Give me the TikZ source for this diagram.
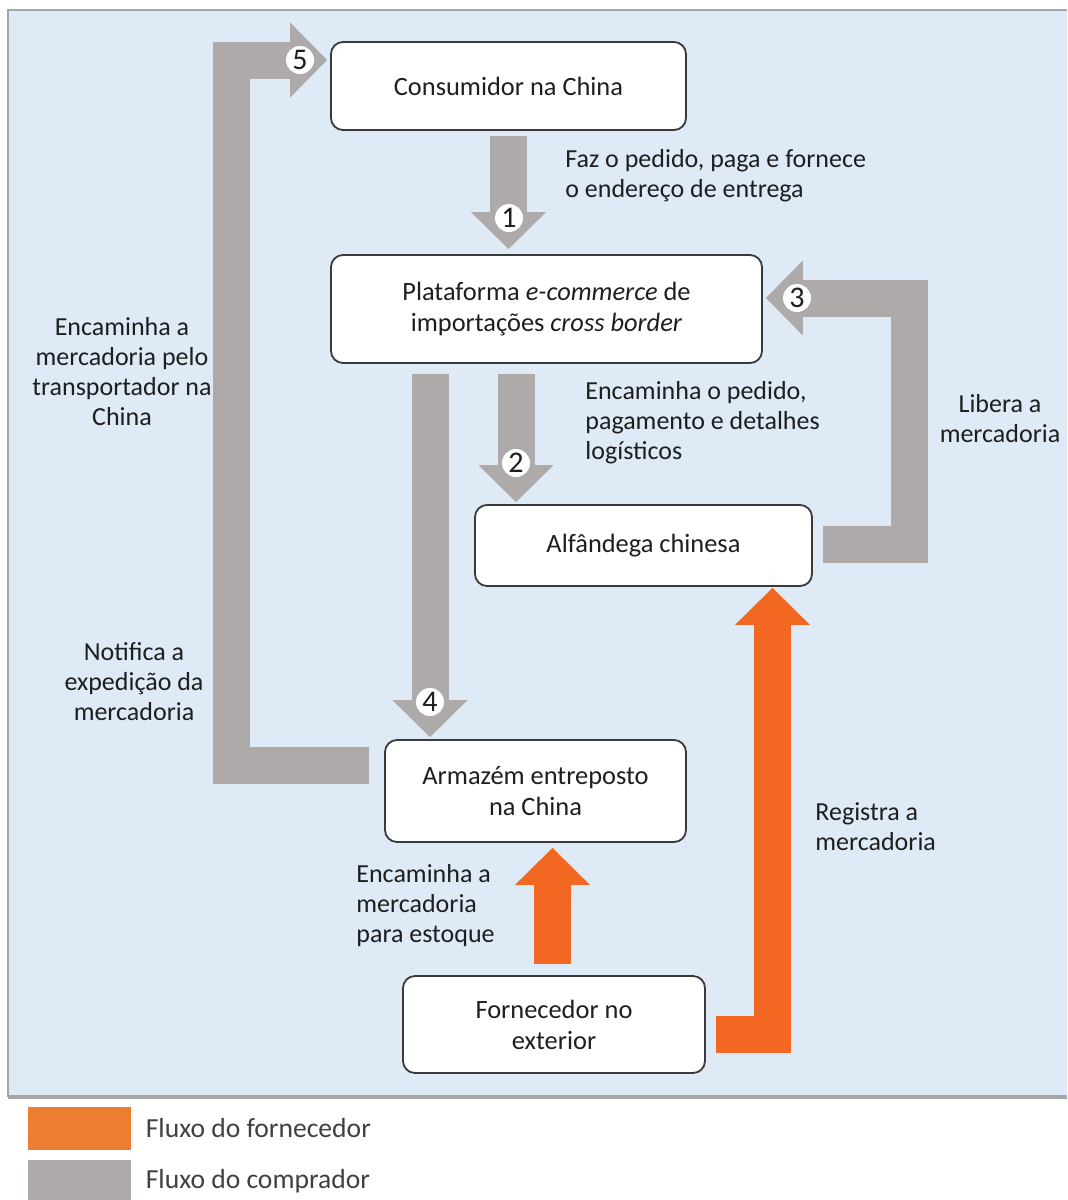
\documentclass[tikz,border=0pt]{standalone}
\usepackage{fontspec}
\setmainfont{Carlito}
\usetikzlibrary{arrows.meta,positioning,calc}
\definecolor{bgblue}{HTML}{DEEBF6}
\definecolor{frame}{HTML}{A6A6A6}
\definecolor{flowgray}{HTML}{AEAAAA}
\definecolor{floworange}{HTML}{F26722}
\definecolor{legorange}{HTML}{ED7D31}
\definecolor{boxline}{HTML}{3A3A3A}
\definecolor{ink}{HTML}{1E1E1E}
\definecolor{legink}{HTML}{404040}

\begin{document}
\begin{tikzpicture}[x=0.5pt,y=-0.5pt,
  box/.style={draw=boxline, line width=0.9pt, fill=white, rounded corners=6pt,
    align=center, text=ink, font=\fontsize{13.2}{15.5}\selectfont, inner sep=2pt},
  lbl/.style={text=ink, font=\fontsize{13}{15}\selectfont, inner sep=0pt},
  flow/.style={line width=18.5pt, line join=miter,
    -{Triangle[length=18.5pt,width=37.5pt,line width=0pt]}},
  grayflow/.style={flow, draw=flowgray},
  orangeflow/.style={flow, draw=floworange},
  num/.style={circle, fill=white, inner sep=0.5pt, minimum size=14pt,
    text=ink, font=\fontsize{15}{15}\selectfont},
  legsw/.style={minimum width=51.5pt, minimum height=21.5pt, inner sep=0pt}]
  \useasboundingbox (0,0) rectangle (1067,1200);
  \fill[bgblue] (8,10) rectangle (1067,1097);
  \draw[frame, line width=1pt] (1067,10) -- (8,10) -- (8,1097);
  \draw[frame, line width=2pt] (8,1097) -- (1067,1097);

  \node[box, minimum width=177.5pt, minimum height=44pt] (cons) at (508.5,86) {Consumidor na China};
  \node[box, minimum width=215.5pt, minimum height=54pt] (plat) at (546.5,309)
    {Plataforma \textit{e-commerce} de\\importações \textit{cross border}};
  \node[box, minimum width=168.5pt, minimum height=40.5pt] (alf) at (643.5,545.5) {Alfândega chinesa};
  \node[box, minimum width=150.5pt, minimum height=51pt] (arm) at (535.5,791) {Armazém entreposto\\na China};
  \node[box, minimum width=151pt, minimum height=48.5pt] (forn) at (554,1024.5) {Fornecedor no\\exterior};

  % fluxo do comprador
  \draw[grayflow] ($(cons.south)+(0,5)$) -- ($(plat.north)+(-38,-5)$);
  \draw[grayflow] ($(plat.south)+(-30.5,10)$) -- ($(alf.north)+(-127.5,-2)$);
  \draw[grayflow] ($(alf.east)+(10,-1)$) -- ++(86.5,0) |- ($(plat.east)+(3,-11)$);
  \draw[grayflow] ($(plat.south)+(-116.5,10)$) -- ($(arm.north)+(-105.5,-2)$);
  \draw[grayflow] ($(arm.west)+(-15,-25.5)$) -- ++(-137.5,0) |- ($(cons.west)+(-3,-26)$);

  % fluxo do fornecedor
  \draw[orangeflow] ($(forn.north)+(-1.5,-11)$) -- ($(arm.south)+(17,5)$);
  \draw[orangeflow] ($(forn.east)+(10,9.5)$) -| ($(alf.south)+(129,1)$);

  \node[num] (n1) at (509,218) {1};
  \node[num] (n2) at (516,463) {2};
  \node[num] (n3) at (797,298) {3};
  \node[num] (n4) at (430,702) {4};
  \node[num] (n5) at (300,60) {5};

  \node[lbl, anchor=west, align=left] (faz) at (565,175.5)
    {Faz o pedido, paga e fornece\\o endereço de entrega};
  \node[lbl, anchor=west, align=left] (encped) at (585,422.5)
    {Encaminha o pedido,\\pagamento e detalhes\\logísticos};
  \node[lbl, align=center] (libera) at (1000,419) {Libera a\\mercadoria};
  \node[lbl, align=center] (enctransp) at (122,372)
    {Encaminha a\\mercadoria pelo\\transportador na\\China};
  \node[lbl, align=center] (notif) at (134,682) {Notifica a\\expedição da\\mercadoria};
  \node[lbl, anchor=west, align=left] (encest) at (356,905.5)
    {Encaminha a\\mercadoria\\para estoque};
  \node[lbl, anchor=west, align=left] (registra) at (815,826.5) {Registra a\\mercadoria};

  % legenda
  \node[legsw, fill=legorange] (legor) at (79.5,1128.5) {};
  \node[legsw, fill=flowgray] (leggr) at (79.5,1181) {};
  \node[lbl, text=legink, font=\fontsize{13.8}{15}\selectfont, right=7pt of legor] (legortxt) {Fluxo do fornecedor};
  \node[lbl, text=legink, font=\fontsize{13.8}{15}\selectfont, right=7pt of leggr] (leggrtxt) {Fluxo do comprador};
\end{tikzpicture}
\end{document}
